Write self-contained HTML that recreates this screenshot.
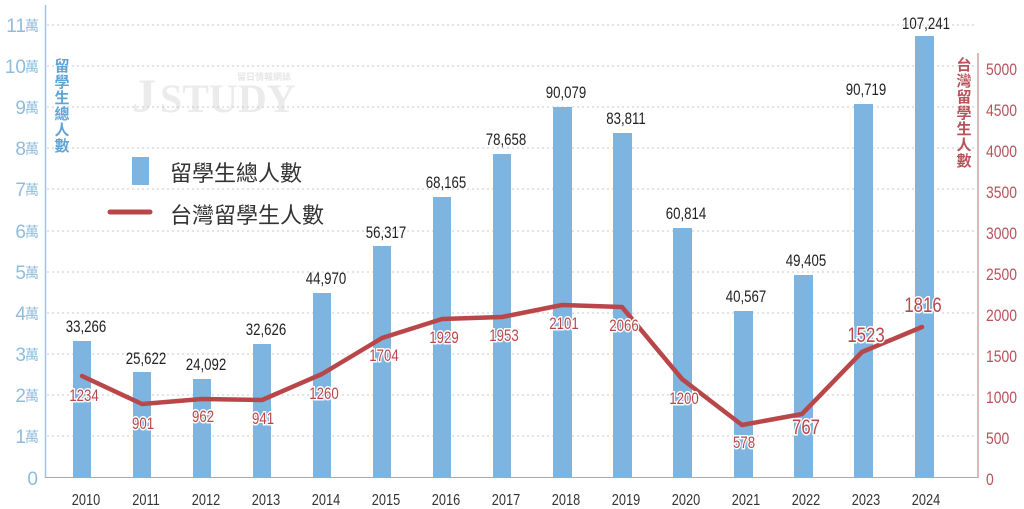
<!DOCTYPE html>
<html><head><meta charset="utf-8"><style>
html,body{margin:0;padding:0;background:#fff;}
svg{display:block;}
.n{font-family:"Liberation Sans",sans-serif;}
.cjk{font-family:"Liberation Sans","Noto Sans CJK TC",sans-serif;}
</style></head><body>
<svg width="1024" height="509" viewBox="0 0 1024 509" xmlns="http://www.w3.org/2000/svg">
<g fill="#ebebeb" font-family="Liberation Serif, serif" font-weight="bold">
<text x="132" y="112" font-size="48">J</text>
<text x="160" y="112" font-size="40">STUDY</text>
<text x="237" y="80" font-size="9" class="cjk" fill="#e6e6e6">留日情報網誌</text>
</g>
<g stroke="#c8c8c8" stroke-width="1" stroke-dasharray="2,3">
<line x1="47" y1="25" x2="976" y2="25"/>
<line x1="47" y1="66" x2="976" y2="66"/>
<line x1="47" y1="107" x2="976" y2="107"/>
<line x1="47" y1="148" x2="976" y2="148"/>
<line x1="47" y1="189" x2="976" y2="189"/>
<line x1="47" y1="231" x2="976" y2="231"/>
<line x1="47" y1="272" x2="976" y2="272"/>
<line x1="47" y1="313" x2="976" y2="313"/>
<line x1="47" y1="354" x2="976" y2="354"/>
<line x1="47" y1="395" x2="976" y2="395"/>
<line x1="47" y1="436" x2="976" y2="436"/>
</g>
<line x1="45.5" y1="5" x2="45.5" y2="478" stroke="#9cc6e6" stroke-width="1.5"/>
<line x1="978" y1="53" x2="978" y2="478" stroke="#c98a8c" stroke-width="1.2"/>
<line x1="45" y1="477.5" x2="978" y2="477.5" stroke="#aaa" stroke-width="1"/>
<g fill="#8fbcdc" class="n" font-size="19" text-anchor="end">
<text x="26" y="32">11</text><text x="26" y="73">10</text><text x="26" y="114">9</text><text x="26" y="155">8</text><text x="26" y="196">7</text><text x="26" y="238">6</text><text x="26" y="279">5</text><text x="26" y="320">4</text><text x="26" y="361">3</text><text x="26" y="402">2</text><text x="26" y="443">1</text><text x="38" y="485">0</text>
</g>
<g fill="#8fbcdc" class="cjk" font-size="14">
<text x="25" y="31">萬</text><text x="25" y="72">萬</text><text x="25" y="113">萬</text><text x="25" y="154">萬</text><text x="25" y="195">萬</text><text x="25" y="237">萬</text><text x="25" y="278">萬</text><text x="25" y="319">萬</text><text x="25" y="360">萬</text><text x="25" y="401">萬</text><text x="25" y="442">萬</text>
</g>
<g fill="#b9525a" class="n" font-size="17">
<text transform="translate(986,75) scale(0.82,1)">5000</text>
<text transform="translate(986,116) scale(0.82,1)">4500</text>
<text transform="translate(986,157) scale(0.82,1)">4000</text>
<text transform="translate(986,198) scale(0.82,1)">3500</text>
<text transform="translate(986,239) scale(0.82,1)">3000</text>
<text transform="translate(986,280) scale(0.82,1)">2500</text>
<text transform="translate(986,321) scale(0.82,1)">2000</text>
<text transform="translate(986,362) scale(0.82,1)">1500</text>
<text transform="translate(986,403) scale(0.82,1)">1000</text>
<text transform="translate(986,444) scale(0.82,1)">500</text>
<text transform="translate(986,485) scale(0.82,1)">0</text>
</g>
<g class="cjk" font-size="15" font-weight="bold" fill="#5fa4d4" text-anchor="middle">
<text x="62" y="71">留</text><text x="62" y="87">學</text><text x="62" y="103">生</text><text x="62" y="119">總</text><text x="62" y="135">人</text><text x="62" y="151">數</text>
</g>
<g class="cjk" font-size="15" font-weight="bold" fill="#b9525a" text-anchor="middle">
<text x="964" y="70">台</text><text x="964" y="86">灣</text><text x="964" y="102">留</text><text x="964" y="118">學</text><text x="964" y="134">生</text><text x="964" y="150">人</text><text x="964" y="166">數</text>
</g>
<rect x="132" y="157" width="17" height="28" fill="#7db4e0"/>
<text x="170" y="181" class="cjk" font-size="22" fill="#333">留學生總人數</text>
<line x1="110" y1="212" x2="150" y2="212" stroke="#b9474a" stroke-width="5" stroke-linecap="round"/>
<text x="170" y="223" class="cjk" font-size="22" fill="#333">台灣留學生人數</text>
<g fill="#7db4e0">
<rect x="73" y="341" width="18" height="137"/>
<rect x="133" y="372" width="18" height="106"/>
<rect x="193" y="379" width="18" height="99"/>
<rect x="253" y="344" width="18" height="134"/>
<rect x="313" y="293" width="18" height="185"/>
<rect x="373" y="246" width="18" height="232"/>
<rect x="433" y="197" width="18" height="281"/>
<rect x="493" y="154" width="18" height="324"/>
<rect x="553" y="107" width="19" height="371"/>
<rect x="613" y="133" width="19" height="345"/>
<rect x="673" y="228" width="19" height="250"/>
<rect x="734" y="311" width="19" height="167"/>
<rect x="794" y="275" width="19" height="203"/>
<rect x="854" y="104" width="19" height="374"/>
<rect x="915" y="36" width="19" height="442"/>
</g>
<g class="n" font-size="17" fill="#222" text-anchor="middle">
<text transform="translate(86,332) scale(0.78,1)">33,266</text>
<text transform="translate(146,364) scale(0.78,1)">25,622</text>
<text transform="translate(206,370) scale(0.78,1)">24,092</text>
<text transform="translate(266,335) scale(0.78,1)">32,626</text>
<text transform="translate(326,284) scale(0.78,1)">44,970</text>
<text transform="translate(386,238) scale(0.78,1)">56,317</text>
<text transform="translate(446,188) scale(0.78,1)">68,165</text>
<text transform="translate(506,145) scale(0.78,1)">78,658</text>
<text transform="translate(566,98) scale(0.78,1)">90,079</text>
<text transform="translate(626,124) scale(0.78,1)">83,811</text>
<text transform="translate(686,219) scale(0.78,1)">60,814</text>
<text transform="translate(746,302) scale(0.78,1)">40,567</text>
<text transform="translate(806,266) scale(0.78,1)">49,405</text>
<text transform="translate(866,95) scale(0.78,1)">90,719</text>
<text transform="translate(926,29) scale(0.78,1)">107,241</text>
</g>
<g class="n" font-size="16" fill="#333" text-anchor="middle">
<text transform="translate(86,505) scale(0.8,1)">2010</text>
<text transform="translate(146,505) scale(0.8,1)">2011</text>
<text transform="translate(206,505) scale(0.8,1)">2012</text>
<text transform="translate(266,505) scale(0.8,1)">2013</text>
<text transform="translate(326,505) scale(0.8,1)">2014</text>
<text transform="translate(386,505) scale(0.8,1)">2015</text>
<text transform="translate(446,505) scale(0.8,1)">2016</text>
<text transform="translate(506,505) scale(0.8,1)">2017</text>
<text transform="translate(566,505) scale(0.8,1)">2018</text>
<text transform="translate(626,505) scale(0.8,1)">2019</text>
<text transform="translate(686,505) scale(0.8,1)">2020</text>
<text transform="translate(746,505) scale(0.8,1)">2021</text>
<text transform="translate(806,505) scale(0.8,1)">2022</text>
<text transform="translate(866,505) scale(0.8,1)">2023</text>
<text transform="translate(926,505) scale(0.8,1)">2024</text>
</g>
<polyline fill="none" stroke="#b9474a" stroke-width="4.5" stroke-linejoin="round" stroke-linecap="round"
points="82,376 142,404 202,399 262,400 322,374 382,338 442,319 502,317 562,305 622,307 682,379 742,425 802,414 862,352 922,327"/>
<g class="n" font-size="17" fill="#b9474a" text-anchor="middle" stroke="#fff" stroke-width="3" paint-order="stroke">
<text transform="translate(84,401) scale(0.78,1)">1234</text>
<text transform="translate(143,429) scale(0.78,1)">901</text>
<text transform="translate(203,422) scale(0.78,1)">962</text>
<text transform="translate(263,424) scale(0.78,1)">941</text>
<text transform="translate(324,399) scale(0.78,1)">1260</text>
<text transform="translate(384,361) scale(0.78,1)">1704</text>
<text transform="translate(444,343) scale(0.78,1)">1929</text>
<text transform="translate(504,341) scale(0.78,1)">1953</text>
<text transform="translate(564,329) scale(0.78,1)">2101</text>
<text transform="translate(624,331) scale(0.78,1)">2066</text>
<text transform="translate(684,404) scale(0.78,1)">1200</text>
<text transform="translate(744,448) scale(0.78,1)">578</text>
</g>
<g class="n" font-size="21" fill="#b9474a" text-anchor="middle" stroke="#fff" stroke-width="3" paint-order="stroke">
<text transform="translate(806,434) scale(0.8,1)">767</text>
<text transform="translate(866,342) scale(0.8,1)">1523</text>
<text transform="translate(923,312) scale(0.8,1)">1816</text>
</g>
</svg>
</body></html>
